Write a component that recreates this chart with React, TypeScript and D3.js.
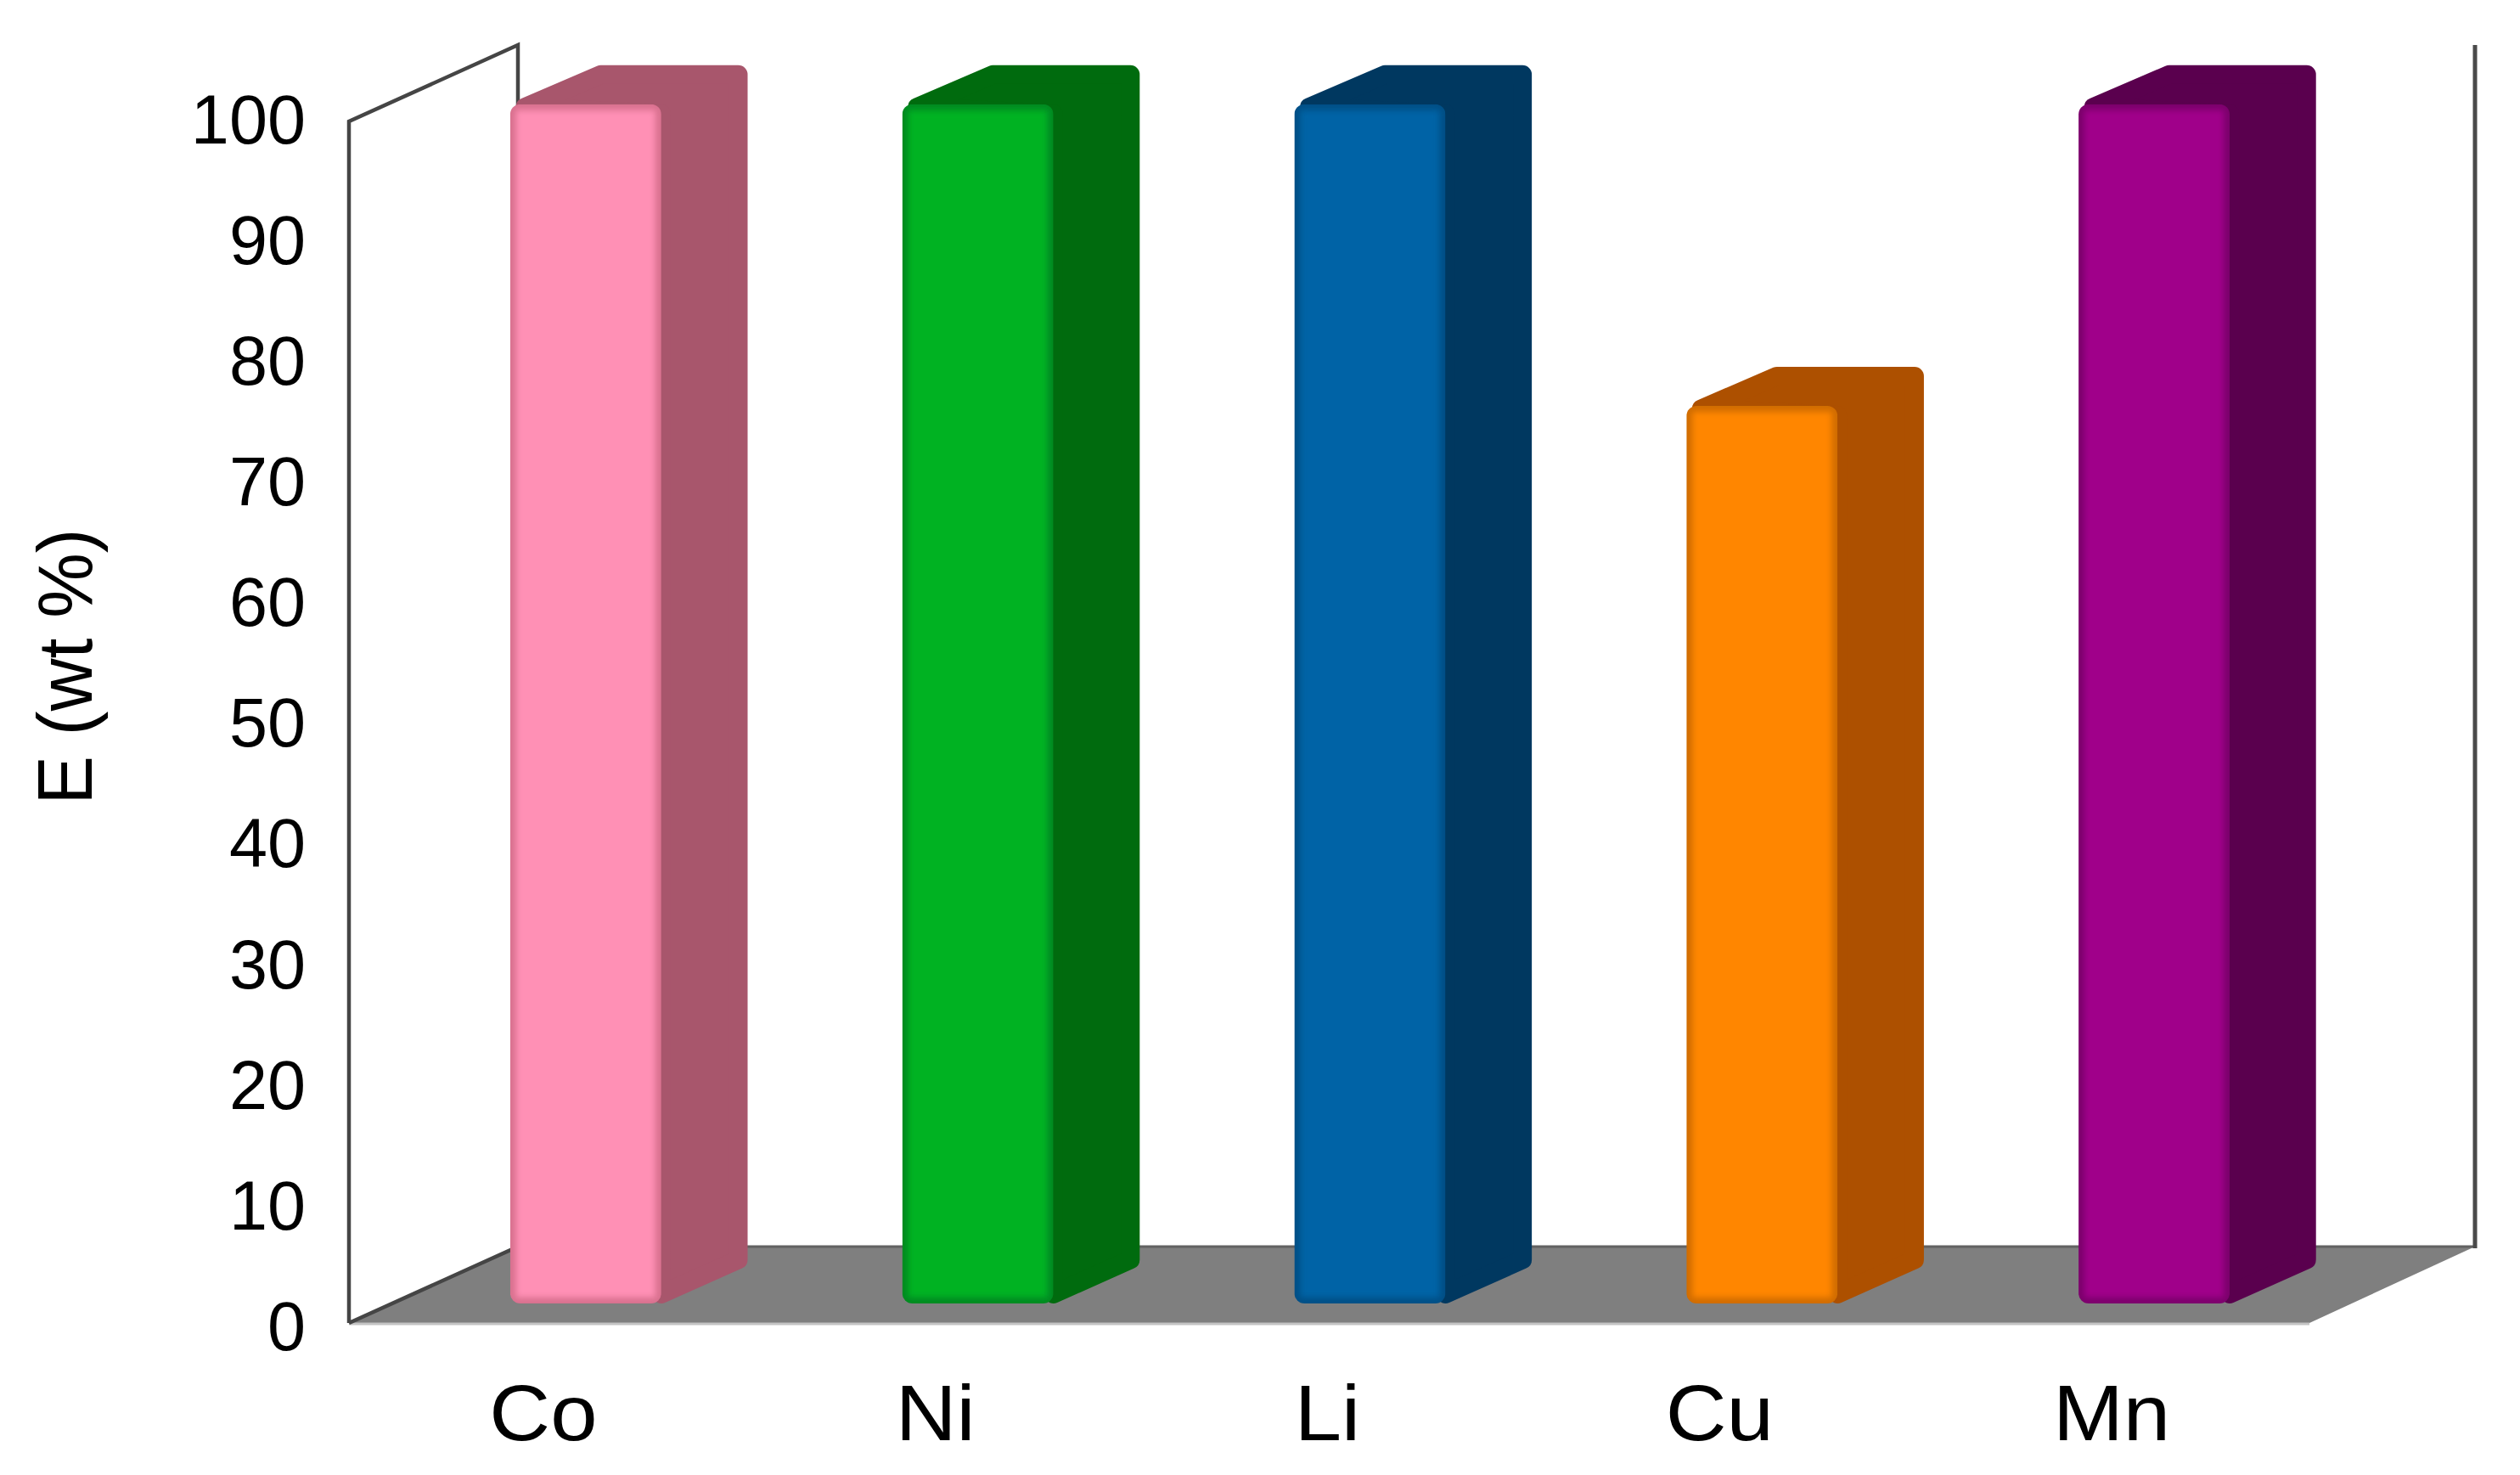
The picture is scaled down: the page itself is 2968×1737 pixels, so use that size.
import * as d3 from "d3";
import React, { useEffect, useRef } from "react";

const metals = ["Co", "Ni", "Li", "Cu", "Mn"];
const extraction = [99.8, 99.8, 99.8, 74.7, 99.8];
const yTicks = [0, 10, 20, 30, 40, 50, 60, 70, 80, 90, 100];

const frontColors = ["#ff90b5", "#00b224", "#0064a6", "#ff8600", "#a0008a"];
const edgeColors = ["#d9718f", "#008a22", "#004f86", "#d06c00", "#7c006c"];
const sideColors = ["#a8566c", "#006b0e", "#003860", "#ad5000", "#5a004e"];

const width = 2968;
const height = 1737;
const font = "'Liberation Sans', Arial, sans-serif";

export default function App() {
  const ref = useRef<SVGSVGElement | null>(null);

  useEffect(() => {
    const svg = d3.select(ref.current);
    svg.selectAll("*").remove();
    svg.attr("width", width).attr("height", height);

    // front plane of the chart box, depth goes back and up
    const y = d3.scaleLinear().domain([0, 100]).range([1558, 143]);
    // the tick labels sit a little wider than the box itself
    const yLabels = d3.scaleLinear().domain([0, 100]).range([1561, 140]);
    const x = d3
      .scaleBand<string>()
      .domain(metals)
      .range([408, 2717])
      .paddingInner(0.6146)
      .paddingOuter(0.3073);
    const depthX = d3.scaleLinear().domain([0, 1]).range([0, 199]);
    const depthY = d3.scaleLinear().domain([0, 1]).range([0, 90]);

    const boxLeft = 411;
    const boxRight = 2720;
    const backLeft = boxLeft + depthX(1);
    const backRight = boxRight + depthX(1) - 4;
    const y0 = y(0);
    const y100 = y(100);
    const backBottom = y0 - depthY(1);
    const backTop = y100 - depthY(1);

    const line = d3.line();
    const defs = svg.append("defs");
    defs
      .append("filter")
      .attr("id", "soft")
      .attr("x", "-10%")
      .attr("y", "-10%")
      .attr("width", "120%")
      .attr("height", "120%")
      .append("feGaussianBlur")
      .attr("stdDeviation", 3.5);

    // floor
    svg
      .append("path")
      .attr(
        "d",
        line([
          [boxLeft, y0],
          [backLeft, backBottom],
          [backRight, backBottom],
          [boxRight, y0],
        ])! + "Z"
      )
      .attr("fill", "#7f7f7f");
    svg
      .append("path")
      .attr("d", line([[boxLeft, y0 + 1], [boxRight, y0 + 1]]))
      .attr("stroke", "#c4c4c4")
      .attr("stroke-width", 3);
    svg
      .append("path")
      .attr("d", line([[backLeft, backBottom], [backRight, backBottom]]))
      .attr("stroke", "#626262")
      .attr("stroke-width", 3);

    // box lines
    svg
      .append("path")
      .attr(
        "d",
        line([
          [boxLeft, y0],
          [boxLeft, y100],
          [backLeft, backTop],
          [backLeft, backBottom],
          [boxLeft, y0],
        ])
      )
      .attr("fill", "#fff")
      .attr("stroke", "#454545")
      .attr("stroke-width", 4.5)
      .attr("stroke-linejoin", "miter");
    svg
      .append("path")
      .attr("d", line([[backRight, backTop], [backRight, backBottom + 2]]))
      .attr("stroke", "#4a4a4a")
      .attr("stroke-width", 5);

    // bars
    const t0 = 0.256;
    const t1 = 0.767;
    const r = 11;
    const bars = svg
      .append("g")
      .selectAll("g")
      .data(metals)
      .enter()
      .append("g");

    bars.each(function (d, i) {
      const g = d3.select(this);
      const fl = x(d)! + depthX(t0);
      const fr = fl + x.bandwidth();
      const ft = y(extraction[i]) - depthY(t0);
      const fb = y0 - depthY(t0);
      const dx = depthX(t1 - t0);
      const dy = depthY(t1 - t0);

      g.append("path")
        .attr(
          "d",
          line([
            [fl + r * 1.6, ft + r * 0.3],
            [fl + dx + r * 0.45, ft - dy + r],
            [fr + dx - r, ft - dy + r],
            [fr + dx - r, fb - dy - r * 0.5],
            [fr, fb - r],
            [fr, ft + r],
          ])! + "Z"
        )
        .attr("fill", sideColors[i])
        .attr("stroke", sideColors[i])
        .attr("stroke-width", r * 2)
        .attr("stroke-linejoin", "round");

      const clipId = `clip-${d}`;
      defs
        .append("clipPath")
        .attr("id", clipId)
        .append("rect")
        .attr("x", fl)
        .attr("y", ft)
        .attr("width", fr - fl)
        .attr("height", fb - ft)
        .attr("rx", 12);

      const front = g.append("g").attr("clip-path", `url(#${clipId})`);
      front
        .append("rect")
        .attr("x", fl)
        .attr("y", ft)
        .attr("width", fr - fl)
        .attr("height", fb - ft)
        .attr("fill", edgeColors[i]);
      front
        .append("rect")
        .attr("x", fl + 7)
        .attr("y", ft + 7)
        .attr("width", fr - fl - 14)
        .attr("height", fb - ft - 14)
        .attr("fill", frontColors[i])
        .attr("filter", "url(#soft)");
    });

    // y axis
    const yAxis = svg
      .append("g")
      .attr("transform", "translate(360,0)")
      .call(d3.axisLeft(yLabels).tickValues(yTicks).tickSize(0).tickPadding(0));
    yAxis.select(".domain").remove();
    yAxis
      .selectAll("text")
      .attr("x", 0)
      .attr("dy", "0.35em")
      .attr("fill", "#000")
      .attr("font-family", font)
      .attr("font-size", 81);

    // x axis
    const xAxis = svg
      .append("g")
      .attr("transform", "translate(1,1696)")
      .call(d3.axisBottom(x).tickSize(0));
    xAxis.select(".domain").remove();
    xAxis
      .selectAll("text")
      .attr("y", 0)
      .attr("dy", 0)
      .attr("fill", "#000")
      .attr("font-family", font)
      .attr("font-size", 93)
      .attr("transform", "scale(1.07,1)");

    // title
    svg
      .append("text")
      .attr("transform", "translate(108,785) rotate(-90) scale(1,1.05)")
      .attr("text-anchor", "middle")
      .attr("font-family", font)
      .attr("font-size", 86)
      .attr("fill", "#000")
      .text("E (wt %)");
  }, []);

  return <svg ref={ref} style={{ position: "absolute", left: 0, top: 0, display: "block" }} />;
}
